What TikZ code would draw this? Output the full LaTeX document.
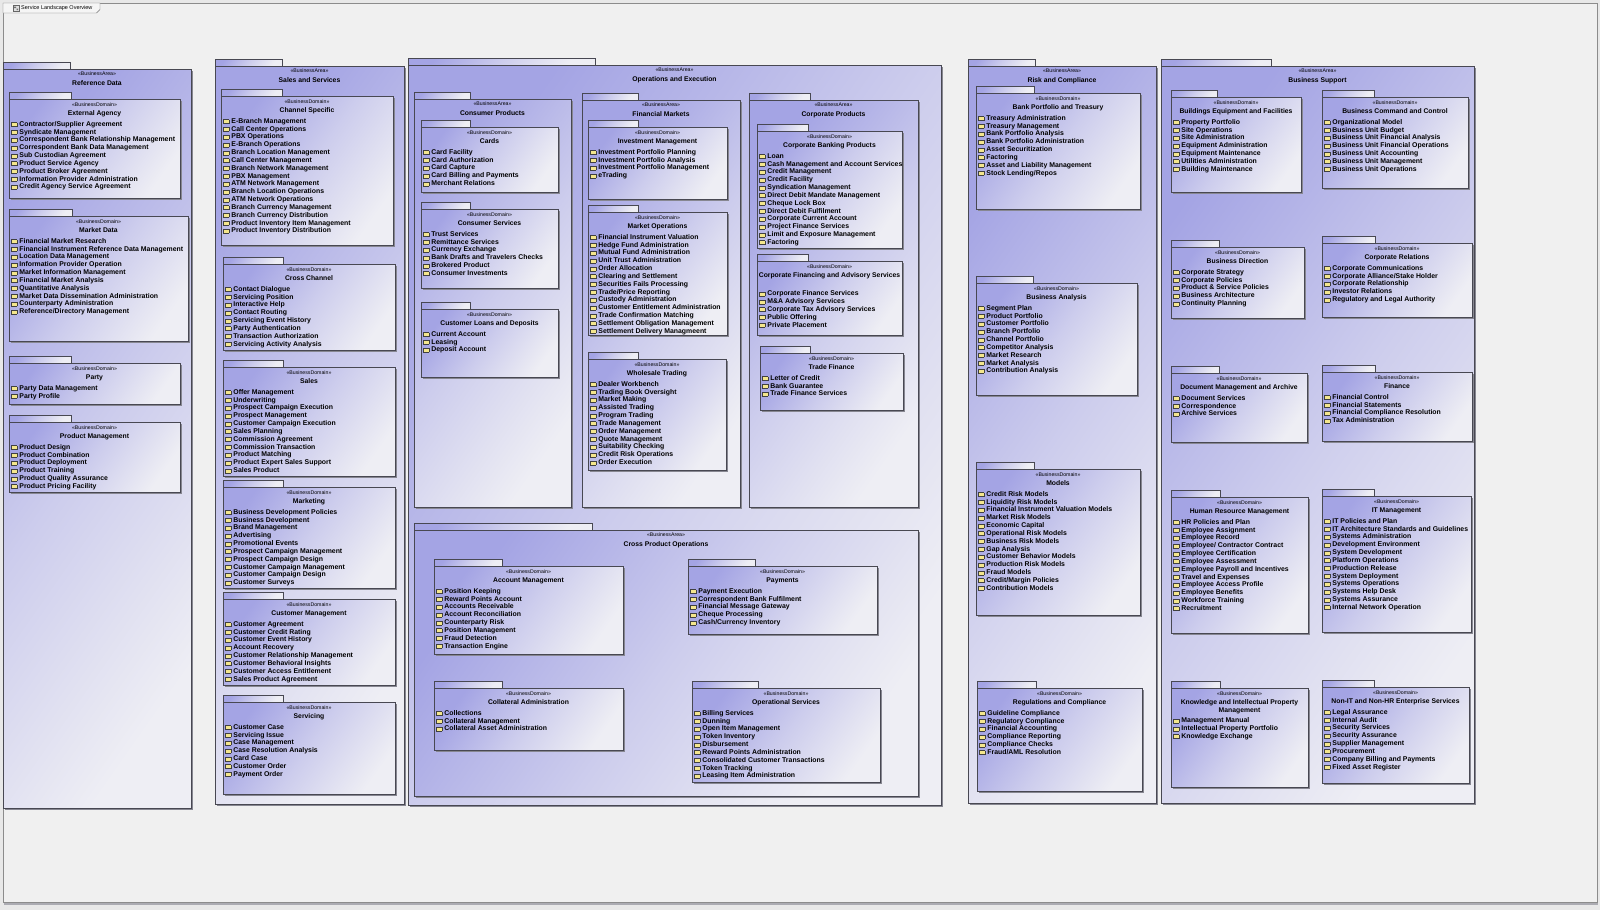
\documentclass[tikz,border=0pt]{standalone}
\usepackage{fontspec}
\setmainfont{Liberation Sans}

\definecolor{pkgblue}{RGB}{164,164,228}
\definecolor{pkgwhite}{RGB}{238,238,244}
\definecolor{pkgline}{RGB}{72,72,82}
\definecolor{pkgshadow}{RGB}{135,135,145}
\definecolor{folderyellow}{RGB}{244,230,140}
\definecolor{canvasgrey}{RGB}{232,232,232}
\definecolor{framefill}{RGB}{240,240,240}

\newcommand{\fld}{{\setlength{\fboxsep}{0pt}\setlength{\fboxrule}{0.4pt}%
  \fcolorbox{black!75}{folderyellow}{\rule{0pt}{3.6pt}\hspace{5.2pt}}}\hspace{2.2pt}}

% package body with tab: name, x1, y1, x2, y2, tab width
\newcommand{\pkgbox}[6]{%
  \fill[pkgshadow] (#2+1.5,#3+1.5) rectangle (#4+1.5,#5+1.5);
  \draw[pkgfill] (#2,#3-7) rectangle (#2+#6,#3);
  \draw[pkgfill] (#2,#3) rectangle (#4,#5);
  \coordinate (#1) at ({(#2+#4)/2},#3);
}
% business area: name, x1, y1, x2, y2, tab width, title
\newcommand{\area}[7]{%
  \pkgbox{#1}{#2}{#3}{#4}{#5}{#6}
  \node[stereo] (#1-st) at ({(#2+#4)/2},#3+2.5) {«BusinessArea»};
  \node[pkgtitle] (#1-nm) at ({(#2+#4)/2},#3+11) {#7};
}
% business domain: name, x1, y1, x2, y2, tab width, title, item offset, items
\newcommand{\domain}[9]{%
  \pkgbox{#1}{#2}{#3}{#4}{#5}{#6}
  \node[stereo] (#1-st) at ({(#2+#4)/2},#3+3.5) {«BusinessDomain»};
  \node[pkgtitle] (#1-nm) at ({(#2+#4)/2},#3+11.5) {#7};
  \foreach \t [count=\i from 0] in {#9}
    \node[item] (#1-\i) at (#2+2,#3+#8+\i*7.83) {\fld\t};
}

\tikzset{
  pkgfill/.style={draw=pkgline, line width=0.6pt, top color=pkgblue,
    bottom color=pkgwhite, middle color=pkgblue!45!pkgwhite, shading angle=55},
  stereo/.style={font=\fontsize{5.2}{6}\selectfont, inner sep=0pt, anchor=north},
  pkgtitle/.style={font=\bfseries\fontsize{6.8}{8}\selectfont, inner sep=0pt,
    anchor=north, align=center},
  item/.style={font=\bfseries\fontsize{6.9}{7.8}\selectfont, inner sep=0pt,
    anchor=west, text height=4.9pt, text depth=1.3pt},
}

\begin{document}
\begin{tikzpicture}[x=1pt,y=-1pt]
\useasboundingbox (0,0) rectangle (1600,910);
\fill[canvasgrey] (0,0) rectangle (1600,910);
\fill[pkgshadow!70] (4,902) rectangle (1598,904.5);
\draw[black!45, fill=framefill] (3,3) rectangle (1597,902);

% diagram frame label
\draw[black!55, fill=white!96!black] (3,3) -- (100,3) -- (100,9.5) -- (96.5,13) -- (3,13) -- cycle;
\draw[black!60, fill=black!12, line width=0.3pt] (13,5) rectangle (19,11);
\fill[black!55] (14,6.5) rectangle (16,8) (16.5,8.5) rectangle (18,10);
\node[font=\fontsize{5.5}{6}\selectfont, inner sep=0pt, anchor=west] (frametitle) at (21,8) {Service Landscape Overview};

% Reference Data
\area{refdata}{3}{69}{191}{808}{67}{Reference Data}
\domain{extagency}{9}{99}{180}{198}{62}{External Agency}{25.5}{Contractor/Supplier Agreement, Syndicate Management, Correspondent Bank Relationship Management, Correspondent Bank Data Management, Sub Custodian Agreement, Product Service Agency, Product Broker Agreement, Information Provider Administration, Credit Agency Service Agreement}
\domain{mktdata}{9}{216}{188}{341}{63}{Market Data}{25.5}{Financial Market Research, Financial Instrument Reference Data Management, Location Data Management, Information Provider Operation, Market Information Management, Financial Market Analysis, Quantitative Analysis, Market Data Dissemination Administration, Counterparty Administration, Reference/Directory Management}
\domain{party}{9}{363}{180}{404}{62}{Party}{25.5}{Party Data Management, Party Profile}
\domain{prodmgmt}{9}{422}{180}{492}{62}{Product Management}{25.5}{Product Design, Product Combination, Product Deployment, Product Training, Product Quality Assurance, Product Pricing Facility}

% Sales and Services
\area{sales}{215}{66}{404}{804}{67}{Sales and Services}
\domain{chspec}{221}{96}{393}{245}{61}{Channel Specific}{25.5}{E-Branch Management, Call Center Operations, PBX Operations, E-Branch Operations, Branch Location Management, Call Center Management, Branch Network Management, PBX Management, ATM Network Management, Branch Location Operations, ATM Network Operations, Branch Currency Management, Branch Currency Distribution, Product Inventory Item Management, Product Inventory Distribution}
\domain{crossch}{223}{264}{395}{350}{60}{Cross Channel}{25.5}{Contact Dialogue, Servicing Position, Interactive Help, Contact Routing, Servicing Event History, Party Authentication, Transaction Authorization, Servicing Activity Analysis}
\domain{salesdom}{223}{367}{395}{476}{60}{Sales}{25.5}{Offer Management, Underwriting, Prospect Campaign Execution, Prospect Management, Customer Campaign Execution, Sales Planning, Commission Agreement, Commission Transaction, Product Matching, Product Expert Sales Support, Sales Product}
\domain{marketing}{223}{487}{395}{588}{60}{Marketing}{25.5}{Business Development Policies, Business Development, Brand Management, Advertising, Promotional Events, Prospect Campaign Management, Prospect Campaign Design, Customer Campaign Management, Customer Campaign Design, Customer Surveys}
\domain{custmgmt}{223}{599}{395}{685}{60}{Customer Management}{25.5}{Customer Agreement, Customer Credit Rating, Customer Event History, Account Recovery, Customer Relationship Management, Customer Behavioral Insights, Customer Access Entitlement, Sales Product Agreement}
\domain{servicing}{223}{702}{395}{794}{60}{Servicing}{25.5}{Customer Case, Servicing Issue, Case Management, Case Resolution Analysis, Card Case, Customer Order, Payment Order}

% Operations and Execution
\area{opsexec}{408}{65}{941}{805}{187}{Operations and Execution}
\area{consprod}{414}{99}{571}{507}{56}{Consumer Products}
\domain{cards}{421}{127}{558}{192}{49}{Cards}{25.5}{Card Facility, Card Authorization, Card Capture, Card Billing and Payments, Merchant Relations}
\domain{conssvc}{421}{209}{558}{288}{49}{Consumer Services}{25.5}{Trust Services, Remittance Services, Currency Exchange, Bank Drafts and Travelers Checks, Brokered Product, Consumer Investments}
\domain{loans}{421}{309}{558}{377}{49}{Customer Loans and Deposits}{25.5}{Current Account, Leasing, Deposit Account}
\area{finmkts}{582}{100}{740}{507}{56}{Financial Markets}
\domain{invmgmt}{588}{127}{727}{199}{50}{Investment Management}{25.5}{Investment Portfolio Planning, Investment Portfolio Analysis, Investment Portfolio Management, eTrading}
\domain{mktops}{588}{212}{727}{335}{50}{Market Operations}{25.5}{Financial Instrument Valuation, Hedge Fund Administration, Mutual Fund Administration, Unit Trust Administration, Order Allocation, Clearing and Settlement, Securities Fails Processing, Trade/Price Reporting, Custody Administration, Customer Entitlement Administration, Trade Confirmation Matching, Settlement Obligation Management, Settlement Delivery Managmeent}
\domain{wholesale}{588}{359}{726}{470}{50}{Wholesale Trading}{25.5}{Dealer Workbench, Trading Book Oversight, Market Making, Assisted Trading, Program Trading, Trade Management, Order Management, Quote Management, Suitability Checking, Credit Risk Operations, Order Execution}
\area{corpprod}{749}{100}{918}{507}{61}{Corporate Products}
\domain{corpbank}{757}{131}{902}{248}{51}{Corporate Banking Products}{25.5}{Loan, Cash Management and Account Services, Credit Management, Credit Facility, Syndication Management, Direct Debit Mandate Management, Cheque Lock Box, Direct Debit Fulfilment, Corporate Current Account, Project Finance Services, Limit and Exposure Management, Factoring}
\domain{corpfin}{757}{261}{902}{335}{51}{Corporate Financing and Advisory Services}{33}{Corporate Finance Services, M\&A Advisory Services, Corporate Tax Advisory Services, Public Offering, Private Placement}
\domain{tradefin}{760}{353}{903}{410}{50}{Trade Finance}{25.5}{Letter of Credit, Bank Guarantee, Trade Finance Services}
\area{crossprod}{414}{530}{918}{796}{178}{Cross Product Operations}
\domain{acctmgmt}{434}{566}{623}{654}{68}{Account Management}{25.5}{Position Keeping, Reward Points Account, Accounts Receivable, Account Reconciliation, Counterparty Risk, Position Management, Fraud Detection, Transaction Engine}
\domain{payments}{688}{566}{877}{634}{67}{Payments}{25.5}{Payment Execution, Correspondent Bank Fulfilment, Financial Message Gateway, Cheque Processing, Cash/Currency Inventory}
\domain{collateral}{434}{688}{623}{750}{68}{Collateral Administration}{25.5}{Collections, Collateral Management, Collateral Asset Administration}
\domain{opsvc}{692}{688}{880}{782}{66}{Operational Services}{25.5}{Billing Services, Dunning, Open Item Management, Token Inventory, Disbursement, Reward Points Administration, Consolidated Customer Transactions, Token Tracking, Leasing Item Administration}

% Risk and Compliance
\area{risk}{968}{66}{1156}{803}{67}{Risk and Compliance}
\domain{bankport}{976}{93}{1140}{209}{58}{Bank Portfolio and Treasury}{25.5}{Treasury Administration, Treasury Management, Bank Portfolio Analysis, Bank Portfolio Administration, Asset Securitization, Factoring, Asset and Liability Management, Stock Lending/Repos}
\domain{busanal}{976}{283}{1137}{395}{57}{Business Analysis}{25.5}{Segment Plan, Product Portfolio, Customer Portfolio, Branch Portfolio, Channel Portfolio, Competitor Analysis, Market Research, Market Analysis, Contribution Analysis}
\domain{models}{976}{469}{1140}{615}{58}{Models}{25.5}{Credit Risk Models, Liquidity Risk Models, Financial Instrument Valuation Models, Market Risk Models, Economic Capital, Operational Risk Models, Business Risk Models, Gap Analysis, Customer Behavior Models, Production Risk Models, Fraud Models, Credit/Margin Policies, Contribution Models}
\domain{regcomp}{977}{688}{1142}{791}{59}{Regulations and Compliance}{25.5}{Guideline Compliance, Regulatory Compliance, Financial Accounting, Compliance Reporting, Compliance Checks, Fraud/AML Resolution}

% Business Support
\area{bizsup}{1161}{66}{1474}{803}{110}{Business Support}
\domain{buildings}{1171}{97}{1301}{192}{46}{Buildings Equipment and Facilities}{25.5}{Property Portfolio, Site Operations, Site Administration, Equipment Administration, Equipment Maintenance, Utilities Administration, Building Maintenance}
\domain{bizcmd}{1322}{97}{1468}{188}{52}{Business Command and Control}{25.5}{Organizational Model, Business Unit Budget, Business Unit Financial Analysis, Business Unit Financial Operations, Business Unit Accounting, Business Unit Management, Business Unit Operations}
\domain{bizdir}{1171}{247}{1304}{318}{48}{Business Direction}{25.5}{Corporate Strategy, Corporate Policies, Product \& Service Policies, Business Architecture, Continuity Planning}
\domain{corprel}{1322}{243}{1472}{317}{53}{Corporate Relations}{25.5}{Corporate Communications, Corporate Alliance/Stake Holder, Corporate Relationship, Investor Relations, Regulatory and Legal Authority}
\domain{docmgmt}{1171}{373}{1307}{442}{48}{Document Management and Archive}{25.5}{Document Services, Correspondence, Archive Services}
\domain{finance}{1322}{372}{1472}{441}{53}{Finance}{25.5}{Financial Control, Financial Statements, Financial Compliance Resolution, Tax Administration}
\domain{hrmgmt}{1171}{497}{1308}{633}{49}{Human Resource Management}{25.5}{HR Policies and Plan, Employee Assignment, Employee Record, Employee/ Contractor Contract, Employee Certification, Employee Assessment, Employee Payroll and Incentives, Travel and Expenses, Employee Access Profile, Employee Benefits, Workforce Training, Recruitment}
\domain{itmgmt}{1322}{496}{1471}{632}{52}{IT Management}{25.5}{IT Policies and Plan, IT Architecture Standards and Guidelines, Systems Administration, Development Environment, System Development, Platform Operations, Production Release, System Deployment, Systems Operations, Systems Help Desk, Systems Assurance, Internal Network Operation}
\domain{knowledge}{1171}{688}{1308}{787}{49}{Knowledge and Intellectual Property\\Management}{33}{Management Manual, Intellectual Property Portfolio, Knowledge Exchange}
\domain{nonit}{1322}{687}{1469}{783}{52}{Non-IT and Non-HR Enterprise Services}{25.5}{Legal Assurance, Internal Audit, Security Services, Security Assurance, Supplier Management, Procurement, Company Billing and Payments, Fixed Asset Register}

\end{tikzpicture}
\end{document}
